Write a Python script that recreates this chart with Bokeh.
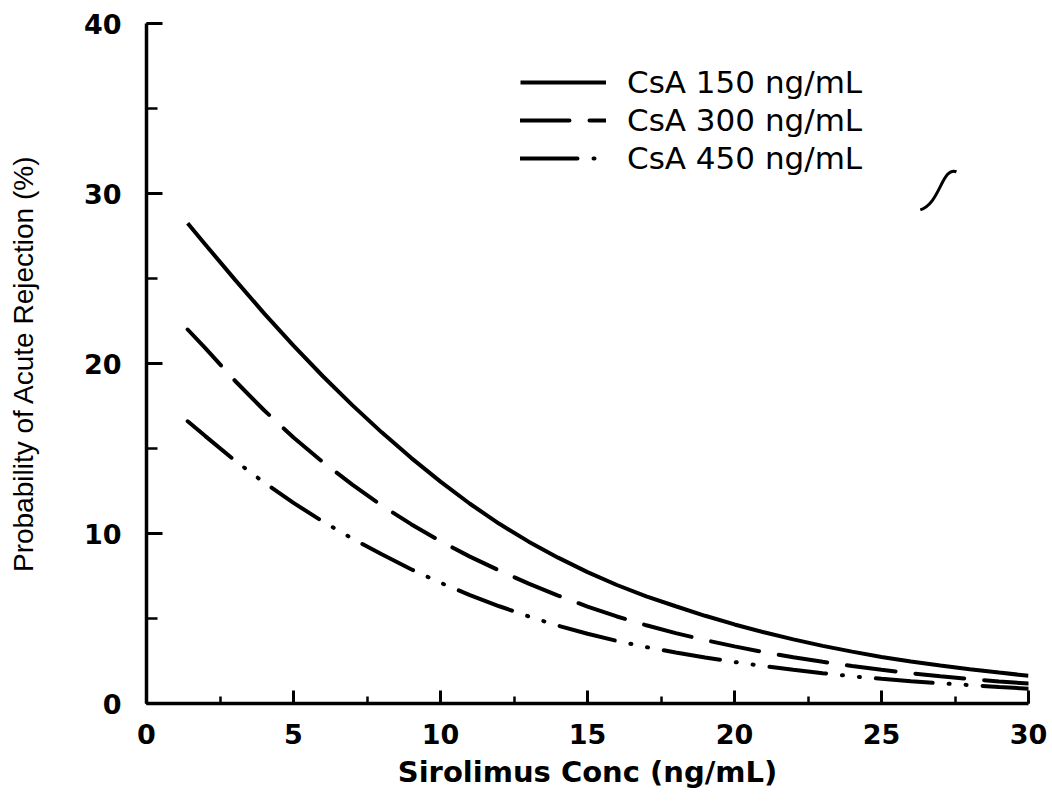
from bokeh.plotting import figure
from bokeh.models import (Range1d, SingleIntervalTicker, Legend, LegendItem)
from bokeh.embed import file_html
from bokeh.resources import INLINE

# Sirolimus trough concentration (ng/mL)
sirolimus = [1.4, 2, 3, 4, 5, 6, 7, 8, 9, 10, 11, 12, 13, 14, 15, 16, 17, 18,
             19, 20, 21, 22, 23, 24, 25, 26, 27, 28, 29, 30]

# Probability of acute rejection (%) at each CsA level
csa_150 = [28.25, 27.0, 24.95, 22.95, 21.05, 19.25, 17.55, 15.95, 14.45, 13.05,
           11.75, 10.57, 9.52, 8.58, 7.73, 6.97, 6.3, 5.72, 5.16, 4.65, 4.19,
           3.77, 3.39, 3.05, 2.74, 2.47, 2.23, 2.02, 1.82, 1.63]
csa_300 = [22.0, 20.9, 19.0, 17.25, 15.65, 14.2, 12.87, 11.65, 10.55, 9.55,
           8.64, 7.82, 7.05, 6.35, 5.7, 5.12, 4.6, 4.14, 3.73, 3.36, 3.02,
           2.72, 2.45, 2.2, 1.98, 1.78, 1.6, 1.44, 1.3, 1.17]
csa_450 = [16.6, 15.73, 14.3, 13.0, 11.8, 10.7, 9.7, 8.78, 7.9, 7.1, 6.38,
           5.72, 5.12, 4.58, 4.1, 3.68, 3.32, 3.0, 2.71, 2.44, 2.2, 1.98, 1.78,
           1.6, 1.45, 1.31, 1.19, 1.08, 0.97, 0.87]

series_labels = ["CsA 150 ng/mL", "CsA 300 ng/mL", "CsA 450 ng/mL"]

x_label = "Sirolimus Conc (ng/mL)"
y_label = "Probability of Acute Rejection (%)"

FONT = "DejaVu Sans"

p = figure(width=1052, height=812, output_backend="svg", toolbar_location=None,
           x_range=Range1d(0, 30), y_range=Range1d(0, 40),
           min_border_left=146, min_border_right=24,
           min_border_top=23, min_border_bottom=109)
p.outline_line_color = None
p.xgrid.visible = False
p.ygrid.visible = False
p.background_fill_color = "white"
p.border_fill_color = "white"

# axes: ticks pointing into the plot
p.xaxis.ticker = SingleIntervalTicker(interval=5, num_minor_ticks=2)
p.yaxis.ticker = SingleIntervalTicker(interval=10, num_minor_ticks=2)
for ax in (p.xaxis, p.yaxis):
    ax.axis_line_width = 3.5
    ax.axis_line_color = "black"
    ax.major_tick_line_width = 3
    ax.minor_tick_line_width = 2.5
    ax.major_tick_line_color = "black"
    ax.minor_tick_line_color = "black"
    ax.major_tick_out = 0
    ax.minor_tick_out = 0
    ax.major_label_text_font = FONT
    ax.major_label_text_font_style = "bold"
    ax.major_label_text_font_size = "27px"
    ax.major_label_text_color = "black"
    ax.axis_label_text_color = "black"

p.xaxis.major_tick_in = 13
p.xaxis.minor_tick_in = 7
p.yaxis.major_tick_in = 16
p.yaxis.minor_tick_in = 11
p.xaxis.major_label_standoff = 20
p.yaxis.major_label_standoff = 25

p.xaxis.axis_label = x_label
p.xaxis.axis_label_text_font = FONT
p.xaxis.axis_label_text_font_size = "29px"
p.xaxis.axis_label_text_font_style = "bold"
p.xaxis.axis_label_standoff = 8

p.yaxis.axis_label = y_label
p.yaxis.axis_label_text_font = "Liberation Sans"
p.yaxis.axis_label_text_font_size = "28px"
p.yaxis.axis_label_text_font_style = "normal"
p.yaxis.axis_label_standoff = 42

r150 = p.line(sirolimus, csa_150, line_color="black", line_width=4)
r300 = p.line(sirolimus, csa_300, line_color="black", line_width=4,
              line_dash="49 20", line_cap="round")
r450 = p.line(sirolimus, csa_450, line_color="black", line_width=4,
              line_dash="57 16 1 16 1 16", line_cap="round")

# small pen stroke at the upper right
p.bezier(x0=[26.32], y0=[29.04], x1=[27.55], y1=[31.28],
         cx0=[27.0], cy0=[29.4], cx1=[27.05], cy1=[31.6],
         line_color="black", line_width=3)

legend = Legend(items=[LegendItem(label=series_labels[0], renderers=[r150]),
                       LegendItem(label=series_labels[1], renderers=[r300]),
                       LegendItem(label=series_labels[2], renderers=[r450])],
                location=(374, 526), padding=0, margin=0, spacing=0,
                glyph_width=86, glyph_height=38, label_height=38,
                label_standoff=21, border_line_color=None,
                background_fill_alpha=0,
                label_text_font=FONT, label_text_font_size="31px",
                label_text_color="black")
p.add_layout(legend)

open("out.html", "w").write(file_html(p, INLINE))
